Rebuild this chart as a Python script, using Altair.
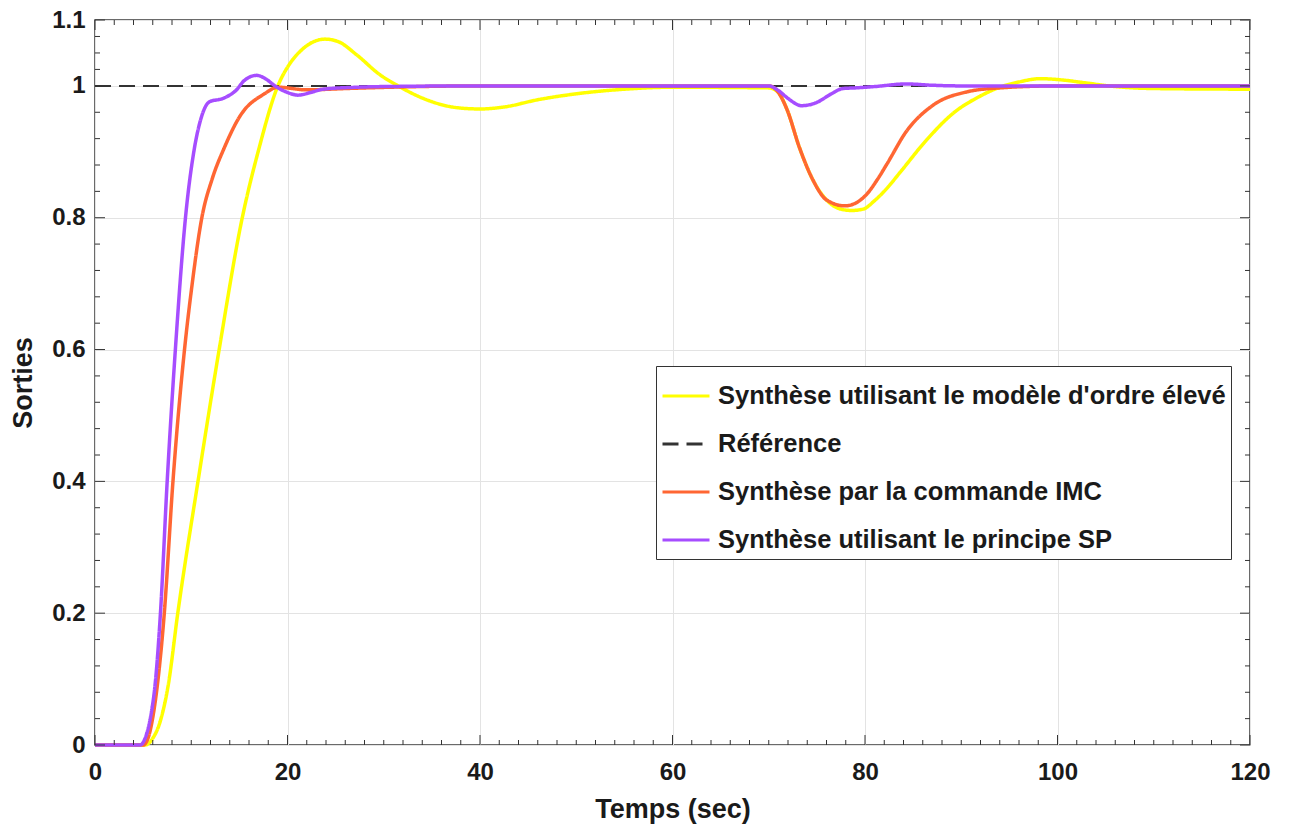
import altair as alt
import pandas as pd

# ---------------- data ----------------
names = [
    "Synthèse utilisant le modèle d'ordre élevé",
    "Référence",
    "Synthèse par la commande IMC",
    "Synthèse utilisant le principe SP",
]
colors = ["#FFFF00", "#333333", "#FF6633", "#A64DFF"]
dashes = [[1, 0], [16, 8], [1, 0], [1, 0]]

t_high = [0, 5.2, 6.0, 6.8, 7.6, 8.6, 10.7, 12.9, 15.3, 17.0, 19.0, 20.3, 21.5, 22.7,
          23.9, 25.3, 27.2, 29.6, 31.5, 34.1, 37.6, 40.0, 42.5, 46, 50, 55, 60, 70,
          71, 71.9, 73.2, 74.6, 76, 77.5, 78.6, 79.8, 81, 82.3, 83.6, 86.4, 89.2, 91.9,
          94, 96, 98.2, 100.5, 102.7, 106, 110, 120]
y_high = [0, 0, 0.01, 0.037, 0.09, 0.2, 0.4, 0.6, 0.8, 0.903, 1.0, 1.035, 1.055, 1.067,
          1.071, 1.067, 1.047, 1.017, 1.0, 0.981, 0.967, 0.965, 0.968, 0.979, 0.988,
          0.995, 0.998, 0.997, 0.99, 0.964, 0.906, 0.857, 0.827, 0.813, 0.811, 0.813,
          0.826, 0.845, 0.868, 0.918, 0.959, 0.984, 0.998, 1.006, 1.011, 1.009, 1.005,
          0.999, 0.996, 0.995]

t_ref = [0, 120]
y_ref = [1.0, 1.0]

t_imc = [0, 5.0, 5.5, 6.2, 7.2, 8.1, 9.3, 10.1, 11.1, 12.2, 13.4, 15.1, 17.6, 19.0,
         22.0, 26.0, 30.6, 40, 60, 70, 71, 71.9, 73.2, 74.6, 76, 77.9, 79, 80.2, 81.2,
         82.3, 84.3, 87.1, 90.6, 94, 100, 120]
y_imc = [0, 0, 0.01, 0.06, 0.2, 0.4, 0.6, 0.7, 0.8, 0.86, 0.905, 0.955, 0.988, 0.998,
         0.994, 0.996, 0.998, 1.0, 1.0, 1.0, 0.99, 0.964, 0.906, 0.857, 0.827, 0.818,
         0.822, 0.836, 0.856, 0.882, 0.931, 0.971, 0.991, 0.997, 1.0, 1.0]

t_sp = [0, 4.7, 5.2, 5.7, 6.3, 6.8, 7.5, 8.35, 9.4, 10.3, 11.0, 11.9, 13.3, 14.7, 15.5,
        16.8, 17.8, 18.7, 20.0, 21.1, 22.4, 23.7, 27.2, 30, 40, 60, 70, 71, 72, 73.4,
        75, 76.5, 77.7, 79, 81, 84.3, 87, 90, 120]
y_sp = [0, 0, 0.01, 0.037, 0.1, 0.2, 0.4, 0.6, 0.8, 0.903, 0.95, 0.976, 0.981, 0.994,
        1.008, 1.016, 1.01, 1.0, 0.99, 0.986, 0.99, 0.995, 0.998, 0.999, 1.0, 1.0, 1.0,
        0.993, 0.981, 0.970, 0.975, 0.988, 0.996, 0.997, 0.999, 1.003, 1.001, 1.0, 1.0]

x_major = [0, 20, 40, 60, 80, 100, 120]
x_minor = [2, 4, 6, 8, 10, 12, 14, 16, 18, 22, 24, 26, 28, 30, 32, 34, 36, 38,
           42, 44, 46, 48, 50, 52, 54, 56, 58, 62, 64, 66, 68, 70, 72, 74, 76, 78,
           82, 84, 86, 88, 90, 92, 94, 96, 98, 102, 104, 106, 108, 110, 112, 114, 116, 118]
y_major = [0, 0.2, 0.4, 0.6, 0.8, 1.0, 1.1]
y_minor = [0.04, 0.08, 0.12, 0.16, 0.24, 0.28, 0.32, 0.36, 0.44, 0.48, 0.52, 0.56,
           0.64, 0.68, 0.72, 0.76, 0.84, 0.88, 0.92, 0.96, 1.025, 1.05, 1.075]

# ---------------- chart ----------------
W, H = 1155, 725
FONT = "Liberation Sans, Arial, Helvetica, sans-serif"
AX = "#333333"

xs = alt.Scale(domain=[0, 120], nice=False, zero=False)
ys = alt.Scale(domain=[0, 1.1], nice=False, zero=False)

x_axis = alt.Axis(title="Temps (sec)", values=x_major, grid=True, labelPadding=15,
                  titlePadding=12, labelFlush=False)
y_axis = alt.Axis(title="Sorties", values=y_major, grid=True,
                  labelExpr="format(datum.value, '.1~f')",
                  labelPadding=10, titlePadding=14, labelFlush=False)

color = alt.Color("serie:N", scale=alt.Scale(domain=names, range=colors),
                  sort=names, title=None)
dash = alt.StrokeDash("serie:N", scale=alt.Scale(domain=names, range=dashes),
                      sort=names, title=None)


def series(t, y, name, width):
    d = pd.DataFrame({"t": t, "y": y, "serie": name})
    return alt.Chart(d).mark_line(interpolate="monotone", strokeWidth=width).encode(
        x=alt.X("t:Q", scale=xs, axis=x_axis),
        y=alt.Y("y:Q", scale=ys, axis=y_axis),
        color=color,
        strokeDash=dash,
    )


def xticks(vals, length):
    d = pd.DataFrame({"t": vals})
    bottom = alt.Chart(d).mark_rule(color=AX, strokeWidth=1).encode(
        x=alt.X("t:Q", scale=xs, axis=x_axis), y=alt.value(H), y2=alt.value(H - length))
    top = alt.Chart(d).mark_rule(color=AX, strokeWidth=1).encode(
        x=alt.X("t:Q", scale=xs, axis=x_axis), y=alt.value(0), y2=alt.value(length))
    return [bottom, top]


def yticks(vals, length):
    d = pd.DataFrame({"y": vals})
    left = alt.Chart(d).mark_rule(color=AX, strokeWidth=1).encode(
        y=alt.Y("y:Q", scale=ys, axis=y_axis), x=alt.value(0), x2=alt.value(length))
    right = alt.Chart(d).mark_rule(color=AX, strokeWidth=1).encode(
        y=alt.Y("y:Q", scale=ys, axis=y_axis), x=alt.value(W), x2=alt.value(W - length))
    return [left, right]


layers = [
    series(t_high, y_high, names[0], 3.5),
    series(t_ref, y_ref, names[1], 2),
    series(t_imc, y_imc, names[2], 3.5),
    series(t_sp, y_sp, names[3], 3.5),
]
layers += xticks(x_major, 10) + xticks(x_minor, 5) + yticks(y_major, 10) + yticks(y_minor, 5)

chart = alt.layer(*layers).properties(
    width=W, height=H,
    autosize=alt.AutoSizeParams(type="none"),
    padding={"left": 95, "top": 20, "right": 39, "bottom": 89},
    background="white",
).configure_view(
    stroke="#3a3a3a", strokeWidth=1.5
).configure_axis(
    labelFont=FONT, labelFontSize=24, labelFontWeight="bold", labelColor="#1a1a1a",
    titleFont=FONT, titleFontSize=27, titleFontWeight="bold", titleColor="#1a1a1a",
    gridColor="#e3e3e3", gridWidth=1, domain=False, ticks=False,
).configure_legend(
    orient="none", legendX=561, legendY=346,
    fillColor="white", strokeColor="#333333", strokeWidth=1, padding=5,
    cornerRadius=0, labelFont=FONT, labelFontSize=25.5, labelFontWeight="bold",
    labelColor="#1a1a1a", labelLimit=0, symbolType="stroke", symbolSize=2209,
    symbolStrokeWidth=3, rowPadding=9, labelOffset=7,
)

chart.save("out.html", embed_options={"renderer": "svg", "actions": False})
